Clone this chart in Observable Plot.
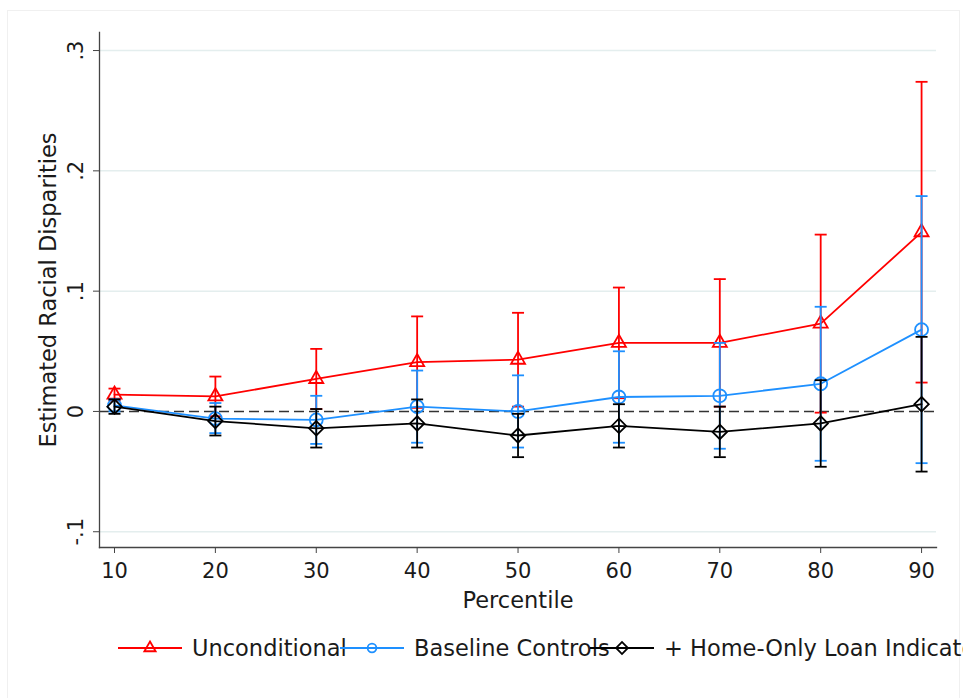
<!DOCTYPE html>
<html>
<head>
<meta charset="utf-8">
<script src="https://cdn.jsdelivr.net/npm/d3@7"></script>
<script src="https://cdn.jsdelivr.net/npm/@observablehq/plot@0.6"></script>
<style>
  html, body { margin: 0; padding: 0; background: #fff; overflow: hidden; }
  body { width: 963px; height: 698px; position: relative; font-family: "DejaVu Sans", sans-serif; }
  #frame { position: absolute; left: 7px; top: 10px; width: 953px; height: 700px; border: 1px solid #f0f0f0; box-sizing: border-box; pointer-events: none; }
  #chart { position: absolute; left: 0; top: 0; }
  #legend { position: absolute; left: 0; top: 620px; width: 963px; height: 78px; overflow: hidden; }
  .item { position: absolute; top: 16px; height: 24px; display: flex; align-items: center; white-space: nowrap; font-size: 22.5px; color: #1a1a1a; }
  .item svg { display: block; margin-right: 10px; }
</style>
</head>
<body>
<div id="frame"></div>
<div id="chart"></div>
<div id="legend"></div>
<script>
const percentiles = [10, 20, 30, 40, 50, 60, 70, 80, 90];
const seriesNames = ["Unconditional", "Baseline Controls", "+ Home-Only Loan Indicator"];
const seriesColors = ["#ff0000", "#1e90ff", "#000000"];
const seriesSymbols = ["triangle", "circle", "diamond2"];

const uncondEst = [0.014, 0.0125, 0.027, 0.041, 0.043, 0.057, 0.057, 0.073, 0.149];
const uncondHi  = [0.019, 0.029, 0.052, 0.079, 0.082, 0.103, 0.110, 0.147, 0.274];
const uncondLo  = [0.009, -0.004, 0.002, 0.003, 0.004, 0.011, 0.004, -0.001, 0.024];

const baseEst = [0.005, -0.006, -0.007, 0.004, 0.000, 0.012, 0.013, 0.023, 0.068];
const baseHi  = [0.010, 0.007, 0.013, 0.034, 0.030, 0.050, 0.057, 0.087, 0.179];
const baseLo  = [0.000, -0.018, -0.027, -0.026, -0.030, -0.026, -0.031, -0.041, -0.043];

const homeEst = [0.004, -0.008, -0.014, -0.010, -0.020, -0.012, -0.017, -0.010, 0.006];
const homeHi  = [0.010, 0.004, 0.002, 0.010, -0.002, 0.006, 0.004, 0.026, 0.062];
const homeLo  = [-0.002, -0.020, -0.030, -0.030, -0.038, -0.030, -0.038, -0.046, -0.050];

const yTicks = [-0.1, 0, 0.1, 0.2, 0.3];
const yTickLabels = ["-.1", "0", ".1", ".2", ".3"];
const xTicks = percentiles;

const estimates = [uncondEst, baseEst, homeEst];
const highs = [uncondHi, baseHi, homeHi];
const lows = [uncondLo, baseLo, homeLo];

const capSymbol = {
  draw(ctx, size) {
    const w = Math.sqrt(size / Math.PI);
    ctx.moveTo(-w, 0);
    ctx.lineTo(w, 0);
  }
};

const seriesMarks = [];
seriesNames.forEach((name, s) => {
  const rows = percentiles.map((p, i) => ({p, est: estimates[s][i], lo: lows[s][i], hi: highs[s][i]}));
  const color = seriesColors[s];
  seriesMarks.push(
    Plot.ruleX(rows, {x: "p", y1: "lo", y2: "hi", stroke: color, strokeWidth: 1.8}),
    Plot.dot(rows, {x: "p", y: "hi", symbol: capSymbol, r: 6, stroke: color, strokeWidth: 1.8, fill: "none"}),
    Plot.dot(rows, {x: "p", y: "lo", symbol: capSymbol, r: 6, stroke: color, strokeWidth: 1.8, fill: "none"}),
    Plot.line(rows, {x: "p", y: "est", stroke: color, strokeWidth: 1.8}),
    Plot.dot(rows, {x: "p", y: "est", symbol: seriesSymbols[s], r: s === 0 ? 5.2 : 6.5, stroke: color, strokeWidth: 1.8, fill: "none"})
  );
});

const chart = Plot.plot({
  width: 963,
  height: 620,
  marginLeft: 99,
  marginRight: 27,
  marginTop: 32,
  marginBottom: 73,
  style: {fontFamily: "DejaVu Sans, sans-serif", fontSize: "21px", color: "#1a1a1a", background: "transparent", overflow: "visible"},
  x: {domain: [8.513, 91.48]},
  y: {domain: [-0.1131, 0.3150]},
  marks: [
    Plot.gridY(yTicks.filter(d => d !== 0), {stroke: "#e4eeee", strokeOpacity: 1, strokeWidth: 1.5}),
    Plot.ruleY([0], {stroke: "#333", strokeWidth: 1.5, strokeDasharray: "10,5"}),
    Plot.frame({anchor: "left", stroke: "#444", strokeWidth: 1.3}),
    Plot.frame({anchor: "bottom", stroke: "#444", strokeWidth: 1.3}),
    Plot.axisY(yTicks, {tickSize: 6, tickFormat: () => "", label: null, stroke: "#444"}),
    Plot.text(yTicks, {y: d => d, text: (d, i) => yTickLabels[i], frameAnchor: "left", dx: -23, rotate: -90, textAnchor: "middle", lineAnchor: "middle", fontSize: 21, fill: "#1a1a1a"}),
    Plot.axisX(xTicks, {tickSize: 6, tickPadding: 10, label: null, fontSize: 21, stroke: "#444"}),
    Plot.text(["Percentile"], {frameAnchor: "bottom", dy: 53, lineAnchor: "middle", fontSize: 22.5, fill: "#1a1a1a"}),
    Plot.text(["Estimated Racial Disparities"], {frameAnchor: "left", dx: -51, rotate: -90, textAnchor: "middle", lineAnchor: "middle", fontSize: 22.5, fill: "#1a1a1a"}),
    ...seriesMarks
  ]
});
document.getElementById("chart").appendChild(chart);

// Legend
const legendLefts = [118, 340, 590];
const legend = d3.select("#legend");
seriesNames.forEach((name, s) => {
  const item = legend.append("div").attr("class", "item").style("left", legendLefts[s] + "px");
  const svg = item.append("svg").attr("width", 64).attr("height", 24);
  svg.append("line").attr("x1", 0).attr("x2", 64).attr("y1", 12).attr("y2", 12)
    .attr("stroke", seriesColors[s]).attr("stroke-width", 1.8);
  const symType = [d3.symbolTriangle, d3.symbolCircle, d3.symbolSquare][s];
  const size = [55, 60, 70][s];
  svg.append("path").attr("d", d3.symbol(symType, size)())
    .attr("transform", `translate(32,12) rotate(${s === 2 ? 45 : 0})`)
    .attr("fill", "none").attr("stroke", seriesColors[s]).attr("stroke-width", 1.8);
  item.append("span").text(name);
});
</script>
</body>
</html>
